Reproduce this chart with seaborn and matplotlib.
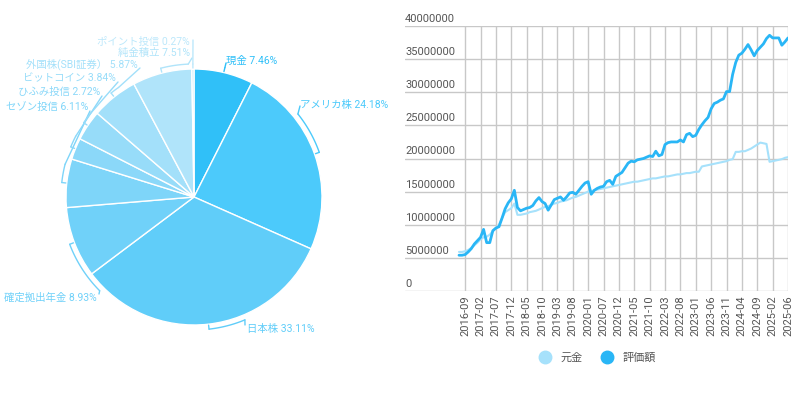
import numpy as np
import pandas as pd
import matplotlib.pyplot as plt
import matplotlib.transforms as mtransforms
from matplotlib.lines import Line2D
import seaborn as sns

# ---- pie data ----
assets = ["現金", "アメリカ株", "日本株", "確定拠出年金", "セゾン投信",
          "ひふみ投信", "ビットコイン", "外国株(SBI証券）", "純金積立", "ポイント投信"]
shares = [7.46, 24.18, 33.11, 8.93, 6.11, 2.72, 3.84, 5.87, 7.51, 0.27]
pie_colors = ["#30c0f8", "#4ccafb", "#60cdf9", "#70d1f9", "#7ed5f9",
              "#8bd8f9", "#97dcf9", "#a3e0fa", "#b0e4fa", "#bde8fb"]

# ---- monthly asset history (million yen) ----
valuation = [5.4, 5.4, 5.5, 5.9, 6.4, 7.1, 7.6, 8.1, 9.3, 7.3,
             7.3, 9.1, 9.5, 9.7, 11.0, 12.4, 13.3, 13.9, 15.2, 12.6,
             12.1, 12.3, 12.5, 12.6, 12.9, 13.6, 14.1, 13.5, 13.2, 12.2,
             13.0, 13.8, 14.0, 14.2, 13.7, 14.2, 14.8, 14.9, 14.6, 15.2,
             15.8, 16.3, 16.5, 14.6, 15.2, 15.5, 15.7, 15.8, 16.5, 16.7,
             16.1, 17.3, 17.6, 17.9, 18.6, 19.3, 19.6, 19.5, 19.8, 19.9,
             20.0, 20.2, 20.4, 20.3, 21.1, 20.4, 20.6, 22.1, 22.4, 22.5,
             22.5, 22.5, 22.8, 22.5, 23.6, 23.8, 23.3, 23.5, 24.4, 25.1,
             25.7, 26.2, 27.5, 28.3, 28.5, 28.8, 29.0, 30.1, 30.1, 32.7,
             34.5, 35.6, 35.9, 36.5, 37.2, 36.4, 35.5, 36.3, 36.8, 37.3,
             38.1, 38.6, 38.2, 38.2, 38.2, 37.1, 37.6, 38.2]
principal = [5.9, 5.9, 6.0, 6.2, 6.5, 6.9, 7.3, 7.8, 8.1, 8.2,
             8.5, 9.0, 9.5, 10.0, 11.0, 11.9, 12.2, 12.5, 13.2, 11.5,
             11.5, 11.6, 11.7, 11.9, 12.0, 12.1, 12.3, 12.5, 12.7, 12.8,
             13.0, 13.2, 13.3, 13.5, 13.6, 13.7, 13.9, 14.1, 14.2, 14.4,
             14.6, 14.8, 15.0, 15.1, 15.2, 15.3, 15.4, 15.5, 15.6, 15.7,
             15.8, 15.9, 16.0, 16.1, 16.2, 16.3, 16.4, 16.5, 16.5, 16.6,
             16.7, 16.8, 16.9, 17.0, 17.0, 17.1, 17.2, 17.3, 17.3, 17.4,
             17.5, 17.6, 17.6, 17.7, 17.8, 17.8, 17.9, 18.0, 18.0, 18.8,
             18.9, 19.0, 19.1, 19.2, 19.3, 19.4, 19.5, 19.6, 19.8, 19.9,
             21.0, 21.0, 21.1, 21.1, 21.3, 21.5, 21.8, 22.1, 22.4, 22.3,
             22.2, 19.5, 19.6, 19.7, 19.8, 19.9, 20.1, 20.2]
tick_labels = ["2016-09", "2017-02", "2017-07", "2017-12", "2018-05", "2018-10",
               "2019-03", "2019-08", "2020-01", "2020-07", "2020-12", "2021-05",
               "2021-10", "2022-03", "2022-08", "2023-01", "2023-06", "2023-11",
               "2024-04", "2024-09", "2025-02", "2025-06"]

df = pd.DataFrame({"i": np.arange(len(valuation)),
                   "元金": np.array(principal) * 1e6,
                   "評価額": np.array(valuation) * 1e6})

sns.set_style("white")
plt.rcParams["font.family"] = ["Roboto", "Noto Sans CJK JP", "DejaVu Sans"]

W, H = 800, 394
fig = plt.figure(figsize=(W / 100, H / 100), dpi=100)

# ---------------- pie (axes in pixel units) ----------------
ax_p = fig.add_axes([0, 0, 0.5, 1])
cx, cy, R = 194, H - 197, 128
ax_p.pie(shares, colors=pie_colors, startangle=90, counterclock=False,
         center=(cx, cy), radius=R, frame=False,
         wedgeprops=dict(edgecolor="white", linewidth=1))
ax_p.set_xlim(0, 400)
ax_p.set_ylim(0, H)
ax_p.set_aspect("auto")
ax_p.axis("off")

# label layout: (bracket end angle offset, connection point px, label px, ha)
layout = [
    (0, (226, 63), (226, 61), "left"),
    (19, (300, 106), (300, 105), "left"),
    (16, (245, 325), (247, 329), "left"),
    (24, (99, 294), (97, 298), "right"),
    (-8, (90, 111), (88, 107), "right"),
    (-5, (102, 96), (100, 92), "right"),
    (-5, (118, 82), (116, 78), "right"),
    (-4, (140, 68), (138, 64), "right"),
    (-12, (192, 58), (190, 53), "right"),
    (0, (193, 40), (190, 42), "right"),
]

cum = 0
for name, s, col, (doff, conn, lab, ha) in zip(assets, shares, pie_colors, layout):
    mid = 90 - 360 * (cum + s / 2) / 100
    cum += s
    r1, r2 = R + 1, R + 5
    # radial tick at the slice middle
    ax_p.plot([cx + r1 * np.cos(np.radians(mid)), cx + r2 * np.cos(np.radians(mid))],
              [cy + r1 * np.sin(np.radians(mid)), cy + r2 * np.sin(np.radians(mid))],
              color=col, lw=1)
    th = np.radians(np.linspace(mid, mid + doff, 30))
    ax_p.plot(cx + r2 * np.cos(th), cy + r2 * np.sin(th), color=col, lw=1)
    ax_p.plot([cx + r2 * np.cos(th[-1]), conn[0]], [cy + r2 * np.sin(th[-1]), H - conn[1]],
              color=col, lw=1)
    ax_p.text(lab[0], H - lab[1], f"{name} {s:.2f}%", color=col, fontsize=7.5,
              ha=ha, va="center")

# ---------------- line chart ----------------
n = len(valuation)
x_left, x_data0, x_right = 405, 459, 788
y_top, y_bot = 26, 291
ax = fig.add_axes([x_left / W, (H - y_bot) / H, (x_right - x_left) / W, (y_bot - y_top) / H])
sns.lineplot(data=df, x="i", y="元金", ax=ax, color="#a6e1fb", linewidth=1.5)
sns.lineplot(data=df, x="i", y="評価額", ax=ax, color="#29b6f6", linewidth=2)

x0 = -(x_data0 - x_left) / (x_right - x_data0) * (n - 1)
ax.set_xlim(x0, n - 1)
ax.set_ylim(0, 40e6)
yt = np.arange(0, 40e6 + 1, 5e6)
ax.set_yticks(yt)
ax.set_xticks(list(range(2, n, 5)), tick_labels, rotation=90)
ax.tick_params(axis="both", length=0)
ax.tick_params(axis="y", labelleft=False)
ax.tick_params(axis="x", labelsize=8, colors="#555555", pad=3)
ax.grid(True, color="#c8c8c8", linewidth=1)
for sp in ax.spines.values():
    sp.set_visible(False)
ax.set_xlabel("")
ax.set_ylabel("")

trans = mtransforms.offset_copy(
    mtransforms.blended_transform_factory(ax.transAxes, ax.transData),
    fig=fig, y=1.5, units="points")
for v in yt:
    ax.text(0, v, f"{int(v)}", transform=trans, ha="left", va="bottom",
            fontsize=8, color="#555555")

handles = [Line2D([], [], marker="o", linestyle="", markersize=9, color="#a6e1fb"),
           Line2D([], [], marker="o", linestyle="", markersize=9, color="#29b6f6")]
fig.legend(handles, ["元金", "評価額"], loc="center", bbox_to_anchor=(595 / W, 1 - 358 / H),
           ncol=2, frameon=False, fontsize=8, labelcolor="#555555",
           handletextpad=0.4, columnspacing=1.2)

fig.savefig("out.png", dpi=100)
